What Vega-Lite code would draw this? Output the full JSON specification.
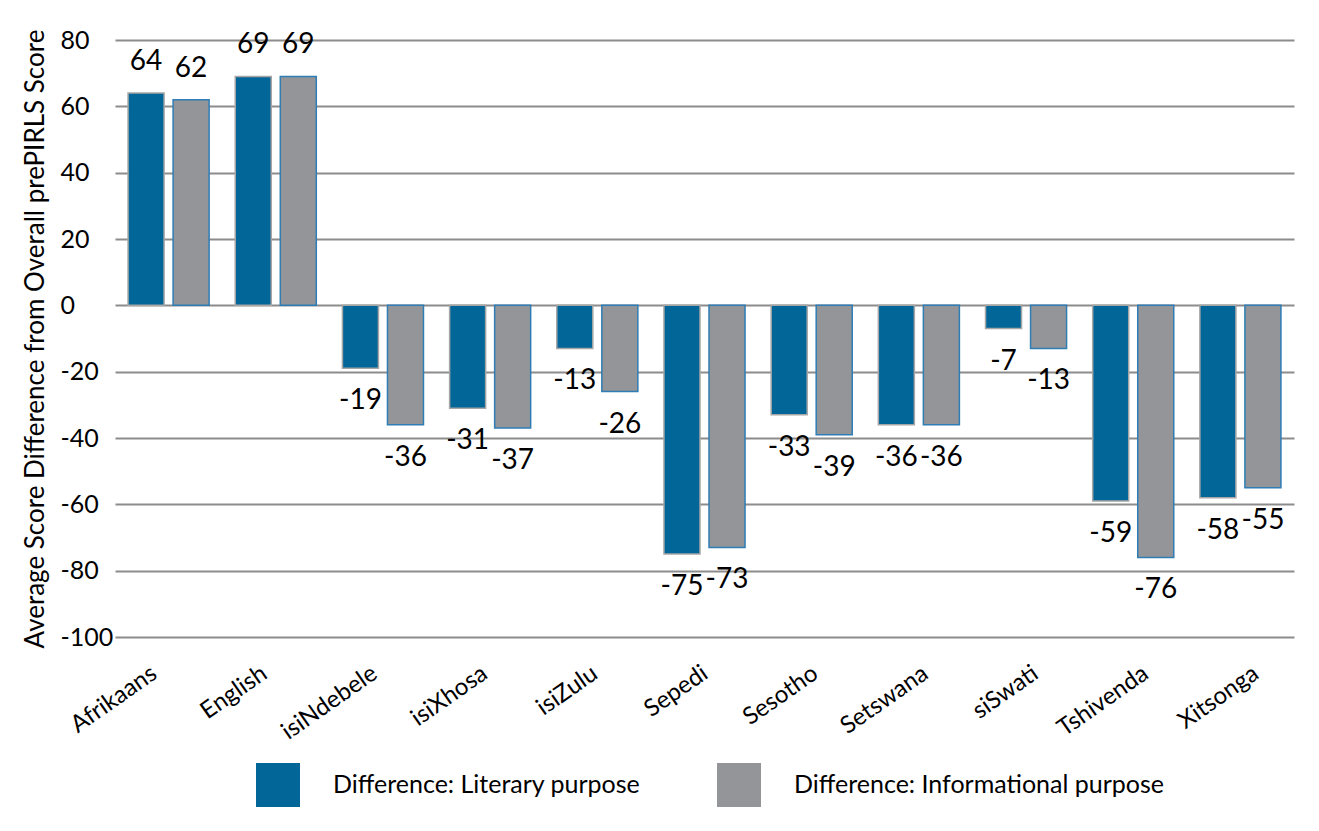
{
  "$schema": "https://vega.github.io/schema/vega-lite/v6.json",
  "width": 1179,
  "height": 597,
  "autosize": {"type": "none"},
  "padding": {"left": 115, "top": 40, "right": 25, "bottom": 194},
  "background": "white",
  "config": {"view": {"stroke": null}, "font": "Lato", "text": {"font": "Lato"}},
  "data": {"values": [
    {"language": "Afrikaans", "purpose": "Difference: Literary purpose", "value": 64},
    {"language": "Afrikaans", "purpose": "Difference: Informational purpose", "value": 62},
    {"language": "English", "purpose": "Difference: Literary purpose", "value": 69},
    {"language": "English", "purpose": "Difference: Informational purpose", "value": 69},
    {"language": "isiNdebele", "purpose": "Difference: Literary purpose", "value": -19},
    {"language": "isiNdebele", "purpose": "Difference: Informational purpose", "value": -36},
    {"language": "isiXhosa", "purpose": "Difference: Literary purpose", "value": -31},
    {"language": "isiXhosa", "purpose": "Difference: Informational purpose", "value": -37},
    {"language": "isiZulu", "purpose": "Difference: Literary purpose", "value": -13},
    {"language": "isiZulu", "purpose": "Difference: Informational purpose", "value": -26},
    {"language": "Sepedi", "purpose": "Difference: Literary purpose", "value": -75},
    {"language": "Sepedi", "purpose": "Difference: Informational purpose", "value": -73},
    {"language": "Sesotho", "purpose": "Difference: Literary purpose", "value": -33},
    {"language": "Sesotho", "purpose": "Difference: Informational purpose", "value": -39},
    {"language": "Setswana", "purpose": "Difference: Literary purpose", "value": -36},
    {"language": "Setswana", "purpose": "Difference: Informational purpose", "value": -36},
    {"language": "siSwati", "purpose": "Difference: Literary purpose", "value": -7},
    {"language": "siSwati", "purpose": "Difference: Informational purpose", "value": -13},
    {"language": "Tshivenda", "purpose": "Difference: Literary purpose", "value": -59},
    {"language": "Tshivenda", "purpose": "Difference: Informational purpose", "value": -76},
    {"language": "Xitsonga", "purpose": "Difference: Literary purpose", "value": -58},
    {"language": "Xitsonga", "purpose": "Difference: Informational purpose", "value": -55}
  ]},
  "encoding": {
    "x": {
      "field": "language", "type": "nominal", "sort": null,
      "scale": {"paddingInner": 0, "paddingOuter": 0},
      "axis": {
        "title": null, "domain": false, "ticks": false, "grid": false,
        "labelAngle": -35, "labelAlign": "right", "labelBaseline": "top",
        "labelFontSize": 24, "labelPadding": 24,
        "labelOffset": {"expr": "-21 + 30 * datum.index"},
        "labelColor": "black", "labelFont": "Lato"
      }
    },
    "xOffset": {
      "field": "purpose", "type": "nominal",
      "sort": ["Difference: Literary purpose", "Difference: Informational purpose"],
      "scale": {"paddingInner": 0.2, "paddingOuter": 0.29}
    },
    "y": {
      "field": "value", "type": "quantitative",
      "scale": {"domain": [-100, 80], "nice": false, "zero": false},
      "axis": {
        "values": [-100, -80, -60, -40, -20, 0, 20, 40, 60, 80],
        "labelExpr": "'' + datum.value",
        "grid": true, "gridColor": "#8c8c8c", "gridWidth": 2,
        "domain": false, "ticks": false,
        "labelAlign": "left", "labelPadding": 55, "labelBaseline": "middle",
        "labelFontSize": 25, "labelColor": "black", "labelFont": "Lato",
        "title": "Average Score Difference from Overall prePIRLS Score",
        "titleFontSize": 26, "titleFontWeight": "normal", "titleColor": "black",
        "titleFont": "Lato", "titlePadding": 12
      }
    }
  },
  "layer": [
    {
      "mark": {"type": "bar", "strokeWidth": 1.5},
      "encoding": {
        "color": {
          "field": "purpose", "type": "nominal",
          "scale": {
            "domain": ["Difference: Literary purpose", "Difference: Informational purpose"],
            "range": ["#036699", "#939598"]
          },
          "legend": {
            "title": null, "orient": "none", "legendX": 141, "legendY": 723,
            "direction": "horizontal", "symbolType": "square", "symbolSize": 1936,
            "symbolStrokeWidth": 0, "labelFontSize": 25, "labelOffset": 33,
            "labelLimit": 600,
            "columnPadding": 76, "labelColor": "black", "labelFont": "Lato",
            "padding": 0
          }
        },
        "stroke": {
          "field": "purpose", "type": "nominal",
          "scale": {
            "domain": ["Difference: Literary purpose", "Difference: Informational purpose"],
            "range": ["#a6a6a6", "#2e7db5"]
          },
          "legend": null
        }
      }
    },
    {
      "transform": [{"filter": "datum.value >= 0"}],
      "mark": {"type": "text", "dy": -31, "fontSize": 28, "color": "black", "align": "center", "baseline": "middle", "font": "Lato"},
      "encoding": {"text": {"field": "value", "type": "nominal"}}
    },
    {
      "transform": [{"filter": "datum.value < 0"}],
      "mark": {"type": "text", "dy": 33, "fontSize": 28, "color": "black", "align": "center", "baseline": "middle", "font": "Lato"},
      "encoding": {"text": {"field": "value", "type": "nominal"}}
    }
  ]
}
